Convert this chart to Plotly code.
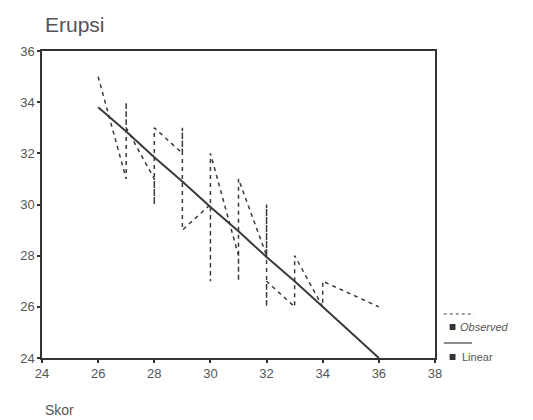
import plotly.graph_objects as go

# Observed data (Skor vs Erupsi), in data order sorted by Skor
obs_x = [26, 27, 27, 27, 28, 28, 28, 29, 29, 29, 30, 30, 30, 31, 31, 31,
         32, 32, 32, 32, 33, 33, 34, 34, 36]
obs_y = [35, 31, 34, 33, 31, 30, 33, 32, 33, 29, 30, 27, 32, 28, 27, 31,
         28, 30, 26, 27, 26, 28, 26, 27, 26]

# Linear fit values read at each Skor
fit_x = [26, 27, 28, 29, 30, 31, 32, 33, 34, 36]
fit_y = [33.8, 32.85, 31.85, 30.9, 29.9, 28.95, 27.95, 27.0, 26.0, 24.0]

x_ticks = [24, 26, 28, 30, 32, 34, 36, 38]
y_ticks = [24, 26, 28, 30, 32, 34, 36]

OFF = 8  # page body margin
W, H = 533 - OFF, 420 - OFF
L, R, T, B = 32, 435, 51, 358  # plot area in window pixels


def px(x):
    return (x - L) / (R - L)


def py(y):
    return (B - y) / (B - T)


fig = go.Figure()
fig.add_trace(go.Scatter(x=obs_x, y=obs_y, mode="lines", name="Observed",
                         line=dict(color="#3a3a3a", width=1.5, dash="4px,4px"),
                         showlegend=False))
fig.add_trace(go.Scatter(x=fit_x, y=fit_y, mode="lines", name="Linear",
                         line=dict(color="#3a3a3a", width=2),
                         showlegend=False))

axis_common = dict(showgrid=False, zeroline=False, showline=True, mirror=True,
                   linecolor="#333333", linewidth=1.5, ticks="outside",
                   ticklen=3, tickwidth=1.5, tickcolor="#333333",
                   tickfont=dict(family="Liberation Sans, Arial", size=13,
                                 color="#555555"))

fig.update_xaxes(range=[24, 38], tickvals=x_ticks, ticktext=[str(v) for v in x_ticks],
                 **axis_common)
fig.update_yaxes(range=[24, 36], tickvals=y_ticks, ticktext=[str(v) for v in y_ticks],
                 **axis_common)

shapes = [
    dict(type="line", xref="paper", yref="paper", x0=px(444), x1=px(475),
         y0=py(314), y1=py(314), line=dict(color="#444444", width=1.2, dash="3px,3px")),
    dict(type="line", xref="paper", yref="paper", x0=px(444), x1=px(473),
         y0=py(343), y1=py(343), line=dict(color="#444444", width=1.2)),
    dict(type="rect", xref="paper", yref="paper", x0=px(450), x1=px(456),
         y0=py(330), y1=py(324), fillcolor="#333333", line=dict(width=0)),
    dict(type="rect", xref="paper", yref="paper", x0=px(450), x1=px(456),
         y0=py(360), y1=py(354), fillcolor="#333333", line=dict(width=0)),
]

annotations = [
    dict(text="Erupsi", xref="paper", yref="paper", x=px(33), y=py(25),
         xanchor="left", yanchor="middle", showarrow=False,
         font=dict(family="Liberation Sans, Arial", size=21, color="#555555")),
    dict(text="Skor", xref="paper", yref="paper", x=px(33), y=py(410),
         xanchor="left", yanchor="middle", showarrow=False,
         font=dict(family="Liberation Sans, Arial", size=14, color="#555555")),
    dict(text="<i>Observed</i>", xref="paper", yref="paper", x=px(459), y=py(327),
         xanchor="left", yanchor="middle", showarrow=False,
         font=dict(family="Liberation Sans, Arial", size=11, color="#555555")),
    dict(text="Linear", xref="paper", yref="paper", x=px(461), y=py(357),
         xanchor="left", yanchor="middle", showarrow=False,
         font=dict(family="Liberation Sans, Arial", size=11, color="#555555")),
]

fig.update_layout(width=W, height=H,
                  margin=dict(l=L - OFF, r=533 - R, t=T - OFF, b=420 - B),
                  plot_bgcolor="white", paper_bgcolor="white",
                  shapes=shapes, annotations=annotations, showlegend=False)

fig.write_html("out.html")
